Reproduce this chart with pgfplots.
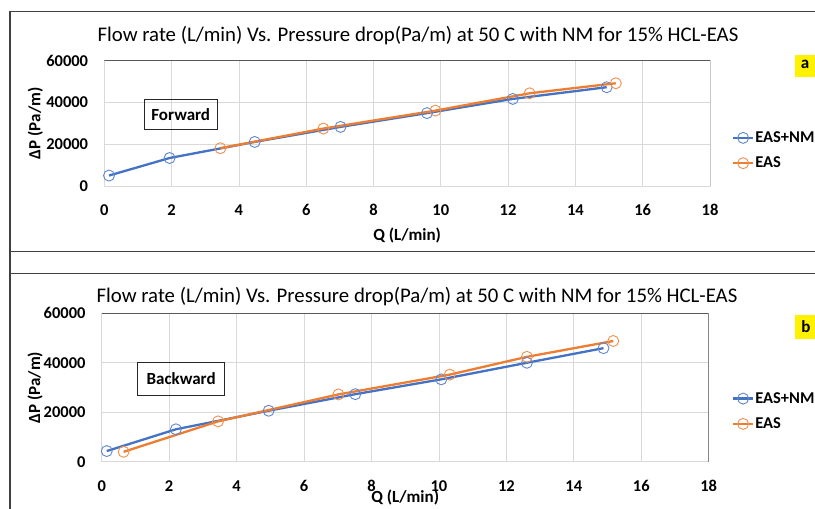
\documentclass[border=0pt]{standalone}
\usepackage{fontspec}
\setmainfont{Carlito}
\usepackage{pgfplots}
\pgfplotsset{compat=1.18}
\definecolor{cblue}{HTML}{4472C4}
\definecolor{corange}{HTML}{ED7D31}
\definecolor{cgrid}{HTML}{D9D9D9}
\definecolor{cframe}{HTML}{404040}
\definecolor{cbox}{HTML}{595959}
\newcommand{\tickfont}{\fontsize{16.5bp}{19bp}\selectfont\bfseries}
\newcommand{\labfont}{\fontsize{17bp}{20bp}\selectfont\bfseries}
\newcommand{\legfont}{\fontsize{16.5bp}{19bp}\selectfont\bfseries}
\newcommand{\titfont}{\fontsize{20.8bp}{24bp}\selectfont}
\pgfplotsset{
  myaxis/.style={
    scale only axis,
    xmin=0, xmax=18, ymin=0, ymax=60000,
    xtick={0,2,...,18}, ytick={0,20000,40000,60000},
    scaled y ticks=false,
    /pgf/number format/1000 sep={},
    /pgf/number format/assume math mode=true,
    grid=major,
    major grid style={cgrid, line width=0.8bp},
    axis line style={cgrid, line width=0.8bp},
    tick style={draw=none},
    ticklabel style={font=\tickfont},
    xticklabel style={anchor=center, yshift=-24bp},
    yticklabel style={anchor=east, inner sep=0pt, xshift=-16bp},
    xlabel={Q (L/min)},
    ylabel={ΔP (Pa/m)},
    label style={font=\labfont},
    ylabel style={at={(rel axis cs:0,0.5)}, anchor=center},
    legend cell align=left,
    legend style={draw=none, fill=none, font=\legfont, inner sep=0pt, row sep=9bp,
      nodes={inner xsep=1bp, inner ysep=2bp}},
    legend image code/.code={\draw[mark repeat=2,mark phase=2,##1] plot coordinates {(0bp,0bp)(10bp,0bp)(20bp,0bp)};},
  },
  sblue/.style={cblue, line width=2.3bp, mark=o, mark size=5.5bp, mark options={solid, draw=cblue!85!white, line width=0.9bp}},
  sorange/.style={corange, line width=2.3bp, mark=o, mark size=5.5bp, mark options={solid, draw=corange!85!white, line width=0.9bp}},
}
\begin{document}
\begin{tikzpicture}
\useasboundingbox (0bp,0bp) rectangle (815bp,509bp);
\fill[white] (0bp,0bp) rectangle (815bp,509bp);
\begin{scope}
\clip (0bp,0bp) rectangle (815bp,509bp);
\draw[cframe, line width=1.5bp] (830bp,497.5bp) -- (10bp,497.5bp) -- (10bp,-10bp);
\draw[cframe, line width=1.5bp] (10bp,257.5bp) -- (830bp,257.5bp);
\draw[cframe, line width=1.5bp] (10bp,235.5bp) -- (830bp,235.5bp);
\fill[yellow] (794.5bp,432.3bp) rectangle (830bp,454bp);
\fill[yellow] (795bp,170bp) rectangle (830bp,194bp);
\end{scope}
\node[font=\labfont] at (805bp,444.5bp) {a};
\node[font=\labfont] at (806bp,182bp) {b};

\node[anchor=base, font=\titfont] at (418bp,467.3bp) {Flow rate (L/min) Vs. Pressure drop(Pa/m) at 50 C with NM for 15\% HCL-EAS};
\node[anchor=base, font=\titfont] at (417bp,206.3bp) {Flow rate (L/min) Vs. Pressure drop(Pa/m) at 50 C with NM for 15\% HCL-EAS};

% top panel (a) Forward
\begin{axis}[myaxis, at={(104.3bp,323bp)}, anchor=south west, width=605.7bp, height=125.3bp,
  xlabel style={at={(rel axis cs:0.5,0)}, anchor=base, yshift=-55bp},
  ylabel style={yshift=69bp},
  legend style={at={(1.036,0.283)}, anchor=west}]
\addplot[sblue] coordinates {(0.14,5000) (1.94,13400) (4.47,21100) (7.02,28300) (9.59,34900) (12.14,41700) (14.93,47300)};
\addlegendentry{EAS+NM}
\addplot[sorange] coordinates {(3.45,18100) (6.51,27500) (9.84,36100) (12.64,44400) (15.2,49200)};
\addlegendentry{EAS}
\draw[cbox, line width=1bp] (rel axis cs:0,1) -- (rel axis cs:1,1) -- (rel axis cs:1,0);
\end{axis}
\node[draw=black!85, line width=0.8bp, minimum width=72.5bp, minimum height=30bp, inner sep=0pt, font=\labfont] at (180.75bp,394.7bp) {Forward};

% bottom panel (b) Backward
\begin{axis}[myaxis, at={(101.7bp,47.3bp)}, anchor=south west, width=607bp, height=148.4bp,
  xlabel style={at={(rel axis cs:0.5,0)}, anchor=base, yshift=-41bp},
  ylabel style={yshift=66.7bp},
  legend style={at={(1.038,0.340)}, anchor=west}]
\addplot[sblue] coordinates {(0.15,4300) (2.2,13100) (4.95,20600) (7.52,27300) (10.07,33300) (12.61,40000) (14.88,45900)};
\addlegendentry{EAS+NM}
\addplot[sorange] coordinates {(0.65,4000) (3.45,16300) (7.02,27200) (10.32,35200) (12.61,42400) (15.17,48800)};
\addlegendentry{EAS}
\draw[cbox, line width=1bp] (rel axis cs:0,1) -- (rel axis cs:1,1) -- (rel axis cs:1,0);
\end{axis}
\node[draw=black!85, line width=0.8bp, minimum width=86.8bp, minimum height=32.6bp, inner sep=0pt, font=\labfont] at (181.1bp,130bp) {Backward};
\end{tikzpicture}
\end{document}
